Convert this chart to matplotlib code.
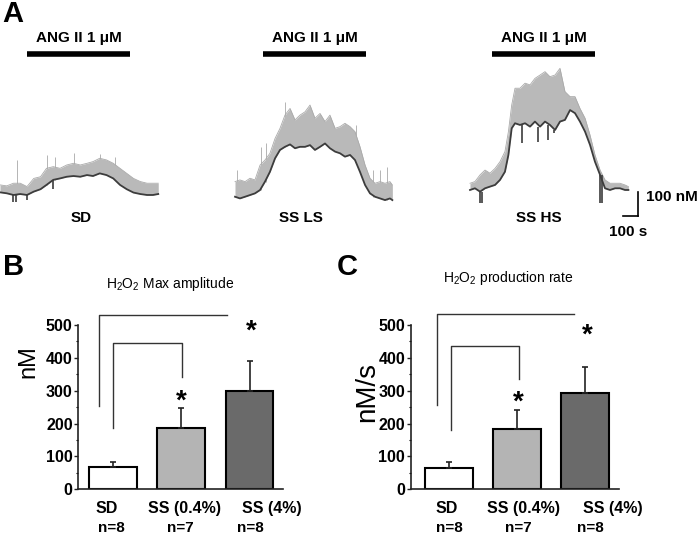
import matplotlib
matplotlib.use('Agg')
import matplotlib.pyplot as plt
from matplotlib.ticker import MultipleLocator

plt.rcParams['font.family'] = ['Liberation Sans', 'DejaVu Sans']
plt.rcParams['mathtext.fontset'] = 'custom'
plt.rcParams['mathtext.rm'] = 'Liberation Sans'
plt.rcParams['mathtext.it'] = 'Liberation Sans:italic'
plt.rcParams['mathtext.bf'] = 'Liberation Sans:bold'

# ---------------- Panel A data (time in s, H2O2 in nM relative to baseline) ----------------
trace_names = ['SD', 'SS LS', 'SS HS']

sd_t = [0, 45, 90, 135, 180, 225, 270, 310, 355, 400, 445, 490, 535, 580, 620, 665, 710, 755, 800, 845, 890, 935, 980, 1020, 1055]
sd_low = [4, 0, -7, -3, -7, 7, 17, 35, 56, 62, 69, 72, 69, 76, 72, 83, 76, 62, 35, 17, 3, -3, -7, -7, -3]
sd_high = [35, 31, 42, 42, 28, 62, 69, 104, 111, 104, 118, 125, 118, 125, 132, 146, 139, 125, 104, 83, 62, 49, 42, 42, 42]

ls_t = [0, 33, 67, 100, 133, 167, 200, 233, 267, 300, 333, 367, 400, 433, 467, 500, 533, 567, 600, 633, 667, 700, 733, 767, 800, 833, 867, 900, 933, 967, 1000, 1033, 1049]
ls_low = [4, -3, 4, 11, 18, 32, 67, 108, 164, 199, 212, 222, 206, 212, 212, 219, 199, 212, 226, 206, 192, 185, 171, 178, 157, 108, 53, 18, 4, -3, -10, -3, -10]
ls_high = [67, 74, 67, 81, 74, 136, 157, 185, 247, 289, 344, 372, 324, 344, 358, 386, 331, 351, 317, 344, 289, 296, 310, 296, 275, 213, 136, 81, 60, 67, 60, 67, 53]

hs_t = [0, 33, 67, 100, 133, 167, 200, 233, 256, 278, 300, 333, 367, 400, 433, 467, 500, 533, 567, 600, 633, 667, 700, 733, 767, 800, 833, 867, 900, 933, 967, 1000, 1033, 1056]
hs_low = [-7, 0, -14, 0, 7, 14, 35, 69, 139, 250, 271, 264, 271, 257, 278, 257, 278, 264, 243, 278, 285, 326, 313, 278, 236, 181, 111, 56, 0, -7, 0, 0, -7, -7]
hs_high = [21, 28, 56, 76, 63, 83, 111, 153, 236, 347, 417, 417, 438, 431, 458, 472, 486, 465, 472, 500, 403, 382, 382, 333, 292, 222, 139, 76, 35, 21, 21, 21, 14, 7]

# noise spikes (upward, grey) and dips (downward, dark): time s, nM
sd_spike_t = [111, 311, 367, 493, 667, 767]
sd_spike_v = [139, 160, 153, 169, 164, 153]
sd_dip_t = [89, 107, 178, 351]
sd_dip_v = [-35, -35, -28, 17]
ls_spike_t = [11, 171, 207, 333, 807, 922, 967, 1011]
ls_spike_v = [115, 212, 226, 400, 303, 115, 115, 129]
ls_dip_t = []
ls_dip_v = []
hs_spike_t = []
hs_spike_v = []
hs_dip_t = [67, 82, 349, 451, 518, 562, 867, 878]
hs_dip_v = [-62, -62, 188, 192, 201, 229, -62, -62]

ang_start = [180, 187, 147]
ang_end = [867, 873, 833]
ang_label = 'ANG II 1 μM'

# ---------------- Panels B / C data ----------------
groups = ['SD', 'SS (0.4%)', 'SS (4%)']
n_labels = ['n=8', 'n=7', 'n=8']
amp_mean = [67, 188, 300]
amp_sem = [17, 58, 90]
rate_mean = [66, 185, 292]
rate_sem = [16, 56, 81]
bar_colors = ['white', '#b4b4b4', '#6a6a6a']

W, H = 700, 535
fig = plt.figure(figsize=(W / 100, H / 100), dpi=100)

# ---------------- Panel A ----------------
A_H = 240  # pixels of the top region
axA = fig.add_axes([0, 1 - A_H / H, 1, A_H / H])
axA.set_xlim(0, W * 100 / 15)      # 15 px = 100 s
axA.set_ylim(0, A_H * 100 / 24)    # 24 px = 100 nM
axA.axis('off')

def px(xp, yp):
    return xp * 100 / 15, (A_H - yp) * 100 / 24

starts = [px(0, 0)[0], px(235, 0)[0], px(470, 0)[0]]
bases = [px(0, 193.3)[1], px(0, 197.7)[1], px(0, 188.3)[1]]

traces = [(sd_t, sd_low, sd_high, sd_spike_t, sd_spike_v, sd_dip_t, sd_dip_v),
          (ls_t, ls_low, ls_high, ls_spike_t, ls_spike_v, ls_dip_t, ls_dip_v),
          (hs_t, hs_low, hs_high, hs_spike_t, hs_spike_v, hs_dip_t, hs_dip_v)]
label_x = [81, 301, 539]
grey = '#b9b9b9'
dark = '#3c3c3c'

def nearest(t, v):
    return min(range(len(t)), key=lambda j: abs(t[j] - v))

for i, (t, lo, hi, st, sv, dt, dv) in enumerate(traces):
    x0, b = starts[i], bases[i]
    tt = [x0 + v for v in t]
    lo_abs = [b + v for v in lo]
    hi_abs = [b + v for v in hi]
    for s_t, s_v in zip(st, sv):
        k = nearest(t, s_t)
        axA.vlines(x0 + s_t, b + lo[k], b + s_v, color='#a8a8a8', lw=0.6, zorder=1)
    axA.fill_between(tt, lo_abs, hi_abs, color=grey, lw=0, zorder=2)
    axA.plot(tt, hi_abs, color='#aaaaaa', lw=0.6, zorder=2)
    axA.plot(tt, lo_abs, color=dark, lw=1.3, zorder=3)
    for d_t, d_v in zip(dt, dv):
        k = nearest(t, d_t)
        axA.vlines(x0 + d_t, b + d_v, b + lo[k], color=dark, lw=1.2, zorder=3)
    # ANG II bar
    yb = px(0, 54)[1]
    axA.plot([x0 + ang_start[i], x0 + ang_end[i]], [yb, yb], color='black', lw=4, solid_capstyle='butt')
    axA.text(x0 + (ang_start[i] + ang_end[i]) / 2, px(0, 38)[1], ang_label,
             ha='center', va='center', fontsize=11, fontweight='bold')
    axA.text(px(label_x[i], 0)[0], px(0, 218)[1], trace_names[i],
             ha='center', va='center', fontsize=11, fontweight='bold')

# scale bar
sx, sy = px(638, 216)
axA.plot([sx, sx], [sy, sy + 100], color='black', lw=1.2)
axA.plot([sx - 100, sx], [sy, sy], color='black', lw=1.2)
axA.text(px(646, 0)[0], sy + 80, '100 nM', ha='left', va='center', fontsize=11, fontweight='bold')
axA.text(sx - 65, px(0, 232)[1], '100 s', ha='center', va='center', fontsize=11, fontweight='bold')

# ---------------- Panels B and C ----------------
def bar_panel(rect, xlim, means, sems, ylabel, ylabel_pos, ylabel_size, brackets, stars,
              lab_dx, n_dx):
    ax = fig.add_axes(rect)
    x = list(range(len(groups)))
    ax.bar(x, means, width=0.70, color=bar_colors, edgecolor='black', linewidth=1.5, zorder=2)
    ax.errorbar(x, means, yerr=[[0] * len(sems), sems], fmt='none', ecolor='#222222',
                elinewidth=1.2, capsize=2, capthick=1.2, zorder=3)
    ax.set_xlim(*xlim)
    ax.set_ylim(0, 500)
    for s in ['top', 'right']:
        ax.spines[s].set_visible(False)
    for s in ['left', 'bottom']:
        ax.spines[s].set_linewidth(1.2)
        ax.spines[s].set_color('#222222')
    ax.set_xticks([])
    ax.set_yticks([0, 100, 200, 300, 400, 500])
    ax.yaxis.set_minor_locator(MultipleLocator(50))
    ax.tick_params(axis='y', which='major', direction='out', length=3, width=1.0, pad=1,
                   labelsize=11.5, colors='#222222')
    ax.tick_params(axis='y', which='minor', direction='out', length=1.5, width=0.8)
    for lab in ax.get_yticklabels():
        lab.set_fontweight('bold')
        lab.set_color('black')
    ax.set_ylabel(ylabel, fontsize=ylabel_size)
    ax.yaxis.set_label_coords(*ylabel_pos)
    # brackets
    for (xl, xr, ytop, yl, yr) in brackets:
        xs, ys = [], []
        if yl is not None:
            xs.append(xl); ys.append(yl)
        xs += [xl, xr]; ys += [ytop, ytop]
        if yr is not None:
            xs.append(xr); ys.append(yr)
        ax.plot(xs, ys, color='#333333', lw=1.0, clip_on=False)
    for (xs_, ys_) in stars:
        ax.annotate('*', xy=(xs_, ys_), xytext=(0, -9), textcoords='offset points',
                    ha='center', va='baseline', fontsize=20, fontweight='bold', annotation_clip=False)
    for i, g in enumerate(groups):
        ax.annotate(g, xy=(i + lab_dx[i], 0), xytext=(0, -17), textcoords='offset points',
                    ha='center', va='baseline', fontsize=11.5, fontweight='bold', annotation_clip=False)
        ax.annotate(n_labels[i], xy=(i + n_dx[i], 0), xytext=(0, -30.5), textcoords='offset points',
                    ha='center', va='baseline', fontsize=11, fontweight='bold', annotation_clip=False)
    return ax

yb0 = 1 - 489.3 / H
hgt = 164.3 / H
axB = bar_panel([78.3 / W, yb0, 204.7 / W, hgt], (-0.51, 2.49), amp_mean, amp_sem, 'nM',
                (-0.19, 0.775), 17,
                [(-0.205, 1.667, 530, 254, None), (0.0, 1.007, 444, 188, 341)],
                [(1.0, 285), (2.03, 497)],
                [-0.09, 0.05, 0.32], [-0.02, -0.01, 0.01])
axC = bar_panel([410.7 / W, yb0, 208.6 / W, hgt], (-0.565, 2.50), rate_mean, rate_sem, 'nM/s',
                (-0.145, 0.59), 20,
                [(-0.18, 1.83, 532, 257, None), (0.02, 1.02, 436, 181, 335)],
                [(1.02, 282), (2.03, 483)],
                [-0.04, 0.09, 0.40], [0.01, 0.02, 0.07])

fig.text(170 / W, 1 - 284 / H, 'H$_2$O$_2$ Max amplitude', ha='center', va='center', fontsize=10)
fig.text(508 / W, 1 - 278 / H, 'H$_2$O$_2$ production rate', ha='center', va='center', fontsize=10)

# panel letters
fig.text(13 / W, 1 - 14 / H, 'A', ha='center', va='center', fontsize=21, fontweight='bold')
fig.text(14 / W, 1 - 267 / H, 'B', ha='center', va='center', fontsize=21, fontweight='bold')
fig.text(347 / W, 1 - 267 / H, 'C', ha='center', va='center', fontsize=21, fontweight='bold')

fig.savefig('out.png', dpi=100)
